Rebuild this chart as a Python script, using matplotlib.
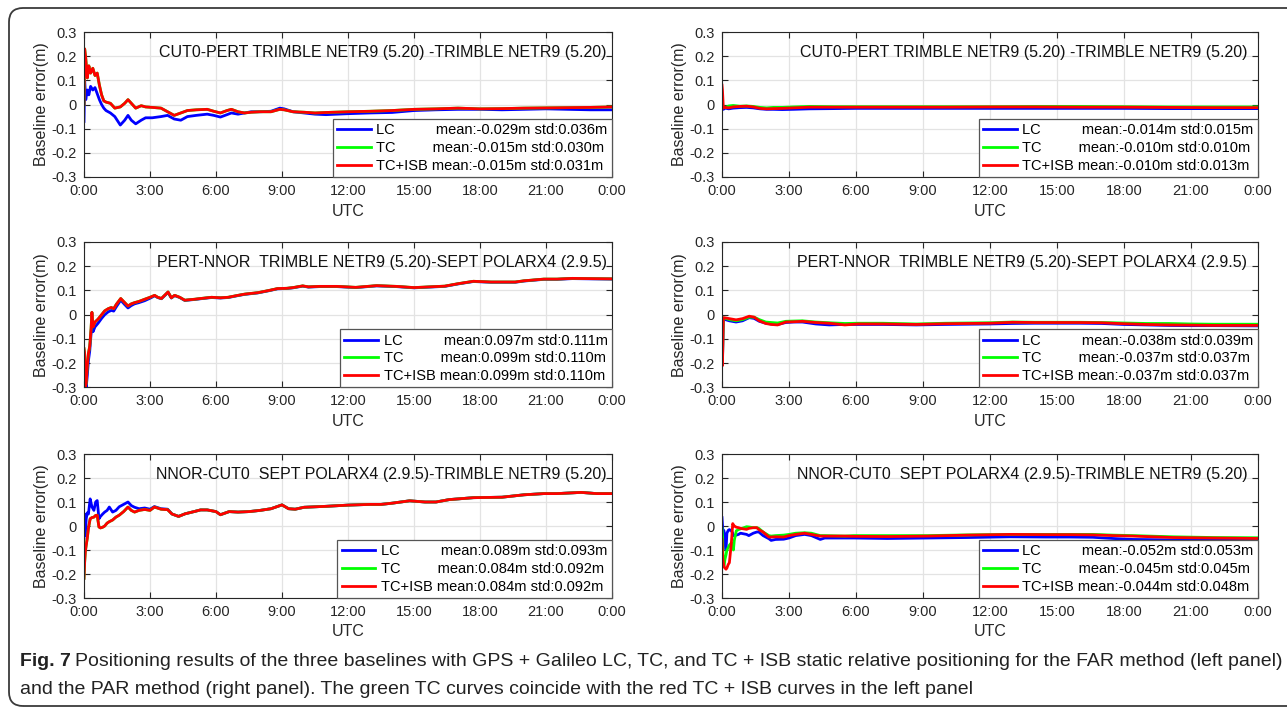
import matplotlib
matplotlib.use("Agg")
import matplotlib.pyplot as plt
from matplotlib import font_manager
from matplotlib.patches import FancyBboxPatch
from matplotlib.transforms import IdentityTransform

# ---------------- fonts ----------------
nomes = {f.name for f in font_manager.fontManager.ttflist}
fonte = "Liberation Sans" if "Liberation Sans" in nomes else "DejaVu Sans"
fonte_legenda = "Liberation Sans Narrow" if "Liberation Sans Narrow" in nomes else fonte
tam_legenda = 12.5 if fonte_legenda != fonte else 14
plt.rcParams["font.family"] = [fonte, "DejaVu Sans"]

# ---------------- dados ----------------
# FAR, CUT0-PERT
h_far1 = [0, 0.03, 0.08, 0.15, 0.22, 0.3, 0.4, 0.5, 0.6, 0.7, 0.8, 0.9, 1.0, 1.2, 1.4, 1.65,
          1.85, 2.0, 2.15, 2.35, 2.6, 2.8, 3.1, 3.5, 3.8, 4.1, 4.4, 4.7, 5.1, 5.6, 5.9, 6.2,
          6.5, 6.7, 7.0, 7.3, 7.6, 8.0, 8.5, 8.9, 9.1, 9.5, 10.0, 10.5, 11.0, 12.0, 13.0,
          14.0, 15.0, 16.0, 17.0, 18.0, 19.0, 20.0, 21.0, 22.0, 23.0, 24.0]
lc_far1 = [-0.07, 0.10, 0.02, 0.06, 0.04, 0.075, 0.06, 0.07, 0.045, 0.02, 0.0, -0.015, -0.025,
           -0.035, -0.05, -0.085, -0.065, -0.045, -0.065, -0.08, -0.065, -0.055, -0.055, -0.05,
           -0.045, -0.06, -0.065, -0.05, -0.045, -0.04, -0.045, -0.052, -0.042, -0.035, -0.04,
           -0.035, -0.03, -0.03, -0.028, -0.015, -0.018, -0.03, -0.035, -0.04, -0.042, -0.038,
           -0.035, -0.033, -0.025, -0.022, -0.02, -0.02, -0.022, -0.02, -0.018, -0.02, -0.022,
           -0.022]
isb_far1 = [0.0, 0.23, 0.19, 0.11, 0.16, 0.13, 0.15, 0.12, 0.13, 0.08, 0.04, 0.015, 0.01, 0.005,
            -0.015, -0.01, 0.005, 0.02, 0.005, -0.015, -0.005, -0.01, -0.012, -0.015, -0.03,
            -0.045, -0.035, -0.025, -0.022, -0.02, -0.028, -0.035, -0.025, -0.02, -0.03, -0.035,
            -0.032, -0.03, -0.03, -0.02, -0.022, -0.03, -0.032, -0.035, -0.033, -0.03, -0.028,
            -0.025, -0.02, -0.018, -0.015, -0.018, -0.017, -0.015, -0.014, -0.013, -0.012, -0.01]
tc_far1 = list(isb_far1)  # TC coincide com TC+ISB

# PAR, CUT0-PERT
h_par1 = [0, 0.02, 0.06, 0.15, 0.3, 0.5, 0.8, 1.1, 1.4, 1.7, 2.0, 2.3, 2.7, 3.2, 3.9, 5, 6, 8,
          10, 12, 14, 16, 18, 20, 22, 24]
lc_par1 = [-0.01, -0.015, -0.02, -0.015, -0.018, -0.015, -0.013, -0.012, -0.014, -0.018, -0.02,
           -0.02, -0.021, -0.02, -0.018, -0.017, -0.016, -0.016, -0.016, -0.016, -0.016, -0.016,
           -0.016, -0.017, -0.017, -0.017]
tc_par1 = [0.03, 0.0, -0.01, -0.012, -0.006, -0.004, -0.007, -0.006, -0.008, -0.012, -0.014,
           -0.012, -0.012, -0.01, -0.008, -0.009, -0.009, -0.009, -0.009, -0.009, -0.008, -0.008,
           -0.009, -0.01, -0.01, -0.01]
isb_par1 = [0.08, 0.06, -0.015, -0.012, -0.014, -0.01, -0.008, -0.007, -0.01, -0.016, -0.018,
            -0.017, -0.016, -0.014, -0.011, -0.011, -0.011, -0.011, -0.011, -0.01, -0.01, -0.011,
            -0.011, -0.012, -0.013, -0.013]

# FAR, PERT-NNOR
h_far2 = [0, 0.03, 0.06, 0.1, 0.15, 0.2, 0.26, 0.32, 0.36, 0.41, 0.5, 0.64, 0.8, 0.94, 1.1, 1.24,
          1.35, 1.47, 1.67, 1.85, 2.0, 2.15, 2.3, 2.5, 2.76, 3.0, 3.21, 3.35, 3.52, 3.82, 3.97,
          4.12, 4.35, 4.58, 5.03, 5.4, 5.8, 6.2, 6.55, 7.0, 7.3, 7.9, 8.4, 8.8, 9.2, 9.5, 9.94,
          10.2, 10.7, 11.5, 12.35, 13.3, 14.2, 15.0, 15.7, 16.4, 17.0, 17.7, 18.5, 19.6, 20.0,
          20.9, 21.5, 22.2, 23.0, 24.0]
lc_far2 = [-0.25, -0.2, -0.28, -0.3, -0.25, -0.19, -0.15, -0.08, -0.02, -0.07, -0.05, -0.035,
           -0.015, 0.0, 0.012, 0.018, 0.015, 0.033, 0.06, 0.042, 0.028, 0.038, 0.045, 0.05, 0.058,
           0.068, 0.078, 0.071, 0.066, 0.092, 0.069, 0.079, 0.071, 0.059, 0.063, 0.067, 0.071,
           0.069, 0.071, 0.079, 0.084, 0.09, 0.099, 0.107, 0.108, 0.111, 0.118, 0.114, 0.116,
           0.116, 0.112, 0.119, 0.116, 0.111, 0.114, 0.117, 0.127, 0.137, 0.134, 0.134, 0.139,
           0.146, 0.146, 0.149, 0.148, 0.147]
isb_far2 = [-0.14, -0.16, -0.3, -0.28, -0.21, -0.16, -0.13, -0.06, 0.01, -0.05, -0.03, -0.018,
            0.0, 0.016, 0.025, 0.03, 0.025, 0.043, 0.067, 0.05, 0.036, 0.045, 0.05, 0.055, 0.064,
            0.072, 0.08, 0.072, 0.067, 0.094, 0.07, 0.08, 0.072, 0.06, 0.064, 0.068, 0.072, 0.07,
            0.072, 0.08, 0.085, 0.091, 0.1, 0.108, 0.109, 0.112, 0.119, 0.115, 0.117, 0.117,
            0.113, 0.12, 0.117, 0.112, 0.115, 0.118, 0.128, 0.138, 0.135, 0.135, 0.14, 0.147,
            0.147, 0.15, 0.149, 0.148]
tc_far2 = list(isb_far2)

# PAR, PERT-NNOR
h_par2 = [0, 0.02, 0.06, 0.15, 0.33, 0.63, 0.92, 1.22, 1.44, 1.67, 1.96, 2.2, 2.49, 2.86, 3.2,
          3.6, 4.2, 4.8, 5.5, 6.1, 7.2, 8.7, 10, 12, 13, 14, 16, 17, 18, 19, 20, 21, 22, 24]
lc_par2 = [-0.18, -0.2, -0.015, -0.02, -0.025, -0.03, -0.025, -0.012, -0.015, -0.027, -0.035,
           -0.038, -0.04, -0.032, -0.03, -0.03, -0.038, -0.042, -0.04, -0.04, -0.04, -0.042,
           -0.04, -0.038, -0.036, -0.035, -0.035, -0.036, -0.04, -0.042, -0.044, -0.045, -0.045,
           -0.046]
tc_par2 = [-0.12, -0.19, -0.013, -0.015, -0.02, -0.025, -0.02, -0.01, -0.01, -0.02, -0.03,
           -0.032, -0.034, -0.027, -0.026, -0.025, -0.03, -0.033, -0.036, -0.035, -0.035, -0.038,
           -0.035, -0.033, -0.03, -0.031, -0.031, -0.032, -0.034, -0.036, -0.036, -0.038, -0.039,
           -0.039]
isb_par2 = [-0.15, -0.21, -0.012, -0.013, -0.016, -0.021, -0.016, -0.006, -0.01, -0.025, -0.036,
            -0.04, -0.042, -0.03, -0.029, -0.027, -0.032, -0.035, -0.042, -0.038, -0.038, -0.04,
            -0.037, -0.035, -0.031, -0.032, -0.032, -0.033, -0.037, -0.04, -0.042, -0.043, -0.044,
            -0.044]

# FAR, NNOR-CUT0
h_far3 = [0, 0.03, 0.06, 0.1, 0.15, 0.2, 0.28, 0.36, 0.45, 0.53, 0.6, 0.68, 0.75, 0.85, 0.94,
          1.05, 1.15, 1.3, 1.45, 1.6, 1.8, 2.0, 2.15, 2.3, 2.5, 2.76, 3.0, 3.2, 3.5, 3.8, 4.0,
          4.3, 4.6, 5.0, 5.3, 5.6, 6.0, 6.2, 6.6, 7.0, 7.5, 8.0, 8.5, 9.0, 9.3, 9.6, 10.0, 11.0,
          12.0, 13.0, 13.5, 14.0, 14.8, 15.5, 16.0, 16.6, 17.7, 19.0, 20.0, 20.9, 21.5, 22.6,
          23.3, 24.0]
lc_far3 = [-0.05, 0.05, -0.04, 0.03, 0.055, 0.05, 0.113, 0.08, 0.065, 0.1, 0.106, 0.03, 0.04,
           0.05, 0.058, 0.065, 0.079, 0.058, 0.065, 0.08, 0.09, 0.1, 0.085, 0.078, 0.072, 0.075,
           0.07, 0.081, 0.072, 0.07, 0.05, 0.04, 0.051, 0.06, 0.067, 0.067, 0.06, 0.047, 0.06,
           0.058, 0.06, 0.065, 0.072, 0.088, 0.072, 0.07, 0.078, 0.082, 0.087, 0.09, 0.09, 0.095,
           0.105, 0.1, 0.1, 0.11, 0.118, 0.12, 0.13, 0.135, 0.135, 0.14, 0.135, 0.135]
isb_far3 = [-0.218, -0.15, -0.107, -0.08, -0.05, -0.01, 0.03, 0.035, 0.037, 0.044, 0.045, -0.004,
            -0.008, -0.005, 0.0, 0.012, 0.018, 0.025, 0.037, 0.045, 0.06, 0.079, 0.065, 0.058,
            0.065, 0.069, 0.065, 0.079, 0.07, 0.068, 0.05, 0.04, 0.051, 0.06, 0.067, 0.067, 0.06,
            0.047, 0.06, 0.058, 0.06, 0.065, 0.072, 0.088, 0.072, 0.07, 0.078, 0.082, 0.087, 0.09,
            0.09, 0.095, 0.105, 0.1, 0.1, 0.11, 0.118, 0.12, 0.13, 0.135, 0.135, 0.14, 0.135,
            0.135]
tc_far3 = list(isb_far3)

# PAR, NNOR-CUT0
h_par3 = [0, 0.03, 0.055, 0.09, 0.13, 0.18, 0.22, 0.28, 0.33, 0.42, 0.48, 0.51, 0.55, 0.64, 0.74,
          0.83, 1.1, 1.2, 1.4, 1.56, 1.65, 1.84, 2.1, 2.2, 2.4, 2.76, 3.0, 3.3, 3.7, 4.0, 4.4,
          4.6, 5.5, 5.9, 7.4, 9.2, 11, 12.9, 14.5, 15.6, 16.6, 17.5, 18.4, 20.2, 22, 24]
lc_par3 = [0.035, -0.01, -0.02, -0.02, -0.06, -0.1, -0.03, -0.018, -0.015, -0.02, -0.03, -0.04,
           -0.04, -0.038, -0.035, -0.03, -0.035, -0.04, -0.03, -0.025, -0.025, -0.04, -0.053,
           -0.06, -0.056, -0.055, -0.05, -0.04, -0.035, -0.04, -0.056, -0.05, -0.05, -0.05,
           -0.052, -0.05, -0.048, -0.045, -0.046, -0.046, -0.047, -0.052, -0.056, -0.058,
           -0.058, -0.059]
tc_par3 = [-0.01, -0.05, -0.167, -0.17, -0.14, -0.12, -0.1, -0.09, -0.08, -0.07, -0.09, -0.1,
           -0.06, -0.02, -0.015, -0.012, -0.003, -0.004, -0.007, -0.007, -0.01, -0.025, -0.04,
           -0.042, -0.04, -0.038, -0.035, -0.03, -0.028, -0.03, -0.04, -0.04, -0.042, -0.04,
           -0.04, -0.04, -0.037, -0.035, -0.035, -0.035, -0.035, -0.038, -0.04, -0.045, -0.048,
           -0.049]
isb_par3 = [-0.056, -0.13, -0.15, -0.17, -0.175, -0.18, -0.175, -0.16, -0.153, -0.07, 0.01,
            0.005, 0.0, -0.005, -0.007, -0.01, -0.014, -0.01, -0.007, -0.007, -0.015, -0.025,
            -0.046, -0.046, -0.045, -0.046, -0.04, -0.035, -0.03, -0.035, -0.042, -0.042, -0.042,
            -0.043, -0.044, -0.042, -0.038, -0.035, -0.036, -0.036, -0.037, -0.04, -0.042,
            -0.048, -0.05, -0.052]

titulos = ["CUT0-PERT TRIMBLE NETR9 (5.20) -TRIMBLE NETR9 (5.20)",
           "PERT-NNOR  TRIMBLE NETR9 (5.20)-SEPT POLARX4 (2.9.5)",
           "NNOR-CUT0  SEPT POLARX4 (2.9.5)-TRIMBLE NETR9 (5.20)"]

# estatisticas (mean, std) de LC, TC, TC+ISB
stats_far = [[("-0.029", "0.036"), ("-0.015", "0.030"), ("-0.015", "0.031")],
             [("0.097", "0.111"), ("0.099", "0.110"), ("0.099", "0.110")],
             [("0.089", "0.093"), ("0.084", "0.092"), ("0.084", "0.092")]]
stats_par = [[("-0.014", "0.015"), ("-0.010", "0.010"), ("-0.010", "0.013")],
             [("-0.038", "0.039"), ("-0.037", "0.037"), ("-0.037", "0.037")],
             [("-0.052", "0.053"), ("-0.045", "0.045"), ("-0.044", "0.048")]]

xticks = [0, 3, 6, 9, 12, 15, 18, 21, 24]
xtick_labels = ["0:00", "3:00", "6:00", "9:00", "12:00", "15:00", "18:00", "21:00", "0:00"]
yticks = [-0.3, -0.2, -0.1, 0, 0.1, 0.2, 0.3]
ytick_labels = ["-0.3", "-0.2", "-0.1", "0", "0.1", "0.2", "0.3"]

far = [(h_far1, lc_far1, tc_far1, isb_far1),
       (h_far2, lc_far2, tc_far2, isb_far2),
       (h_far3, lc_far3, tc_far3, isb_far3)]
par = [(h_par1, lc_par1, tc_par1, isb_par1),
       (h_par2, lc_par2, tc_par2, isb_par2),
       (h_par3, lc_par3, tc_par3, isb_par3)]

# ---------------- figura ----------------
W, H = 1287, 714
fig = plt.figure(figsize=(W / 100, H / 100), dpi=100)

# moldura arredondada
moldura = FancyBboxPatch((9, 8), 1300, 698, boxstyle="round,pad=0,rounding_size=14",
                         transform=IdentityTransform(), facecolor="none",
                         edgecolor="#3a3a3a", linewidth=1.3)
fig.patches.append(moldura)

# [left, right] em px e linhas [top, bottom] em px
colunas = [(84, 612), (722, 1258)]
linhas = [(32, 177), (242, 387.5), (454, 598)]


def painel(ax, dados, titulo, stats, pad_titulo):
    h, lc, tc, isb = dados
    ax.plot(h, lc, color=(0, 0, 1), lw=2, label="LC" + " " * 10 +
            "mean:%sm std:%sm" % stats[0])
    ax.plot(h, tc, color=(0, 1, 0), lw=2, label="TC" + " " * 9 +
            "mean:%sm std:%sm" % stats[1])
    ax.plot(h, isb, color=(1, 0, 0), lw=2, label="TC+ISB " +
            "mean:%sm std:%sm" % stats[2])
    ax.set_xlim(0, 24)
    ax.set_ylim(-0.3, 0.3)
    ax.set_xticks(xticks)
    ax.set_xticklabels(xtick_labels)
    ax.set_yticks(yticks)
    ax.set_yticklabels(ytick_labels)
    ax.grid(True, color="#e3e3e3", lw=0.9)
    ax.set_axisbelow(True)
    ax.tick_params(direction="in", length=4, width=0.8, top=True, right=True,
                   labelsize=10.5, pad=5, colors="#262626")
    for s in ax.spines.values():
        s.set_color("#262626")
        s.set_linewidth(0.8)
    ax.set_xlabel("UTC", fontsize=11.5, labelpad=4, color="#262626")
    ax.set_ylabel("Baseline error(m)", fontsize=11.5, labelpad=2, color="#262626")
    ax.text(1 - pad_titulo, 0.86, titulo, transform=ax.transAxes, ha="right", va="center",
            fontsize=11.5, color="#111111")
    leg = ax.legend(loc="lower right", borderaxespad=0, fontsize=10.5, fancybox=False,
                    edgecolor="#555555", framealpha=1, handlelength=2.3, handletextpad=0.4,
                    labelspacing=0.25, borderpad=0.3)
    leg.get_frame().set_linewidth(0.9)


for i in range(3):
    top, bot = linhas[i]
    for j, (dados, stats) in enumerate([(far[i], stats_far[i]), (par[i], stats_par[i])]):
        left, right = colunas[j]
        ax = fig.add_axes([left / W, 1 - bot / H, (right - left) / W, (bot - top) / H])
        painel(ax, dados, titulos[i], stats, 0.01 if j == 0 else 0.02)

# legenda da figura
r = fig.canvas.get_renderer()
y1 = 1 - 661 / H
y2 = 1 - 690 / H
t = fig.text(20 / W, y1, "Fig. 7", fontsize=tam_legenda, fontweight="bold", va="center",
             family=[fonte_legenda, "DejaVu Sans"], color="#222222")
x1 = t.get_window_extent(r).x1
fig.text((x1 + 4) / W, y1, "Positioning results of the three baselines with GPS + Galileo LC, TC, "
         "and TC + ISB static relative positioning for the FAR method (left panel)",
         fontsize=tam_legenda, va="center", family=[fonte_legenda, "DejaVu Sans"],
         color="#222222")
fig.text(20 / W, y2, "and the PAR method (right panel). The green TC curves coincide with the "
         "red TC + ISB curves in the left panel", fontsize=tam_legenda, va="center",
         family=[fonte_legenda, "DejaVu Sans"], color="#222222")

fig.savefig("out.png", dpi=100)
